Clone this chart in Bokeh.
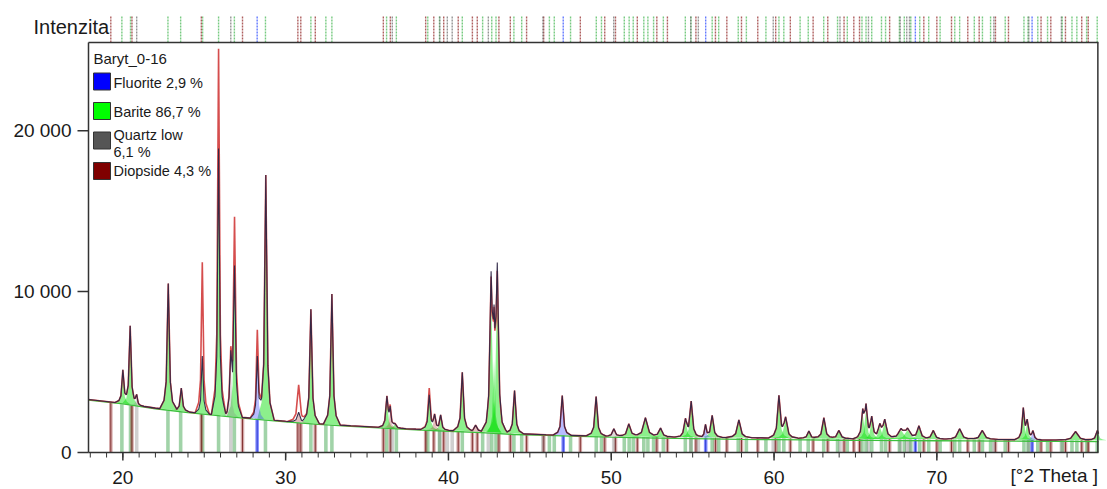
import numpy as np
from bokeh.plotting import figure
from bokeh.models import Range1d, Label
from bokeh.core.properties import value
from bokeh.embed import file_html
from bokeh.resources import INLINE

# ---------------- data ----------------
peak_theta = [20.00, 20.45, 20.85, 22.79, 23.59, 24.88, 25.88, 26.63, 26.86, 28.26,
              28.78, 30.80, 31.55, 32.84, 36.22, 36.42, 36.72, 38.82, 39.15, 39.52,
              40.85, 41.67, 42.62, 42.80, 43.00, 44.06, 46.99, 49.07, 50.16, 51.08,
              52.10, 53.03, 54.56, 54.91, 55.79, 56.20, 57.84, 60.30, 60.71, 62.14,
              63.06, 63.98, 65.45, 65.65, 66.00, 66.50, 66.80, 67.80, 68.20, 68.90,
              69.78, 71.40, 72.79, 75.31, 75.55, 75.90, 78.52, 79.86]
peak_obs = [5100, 7850, 3500, 10500, 4000, 6000, 18900, 5600, 11400, 6000,
            17250, 2500, 8900, 9850, 3400, 2600, 1750, 3550, 2240, 2300,
            4990, 1700, 10100, 5900, 10800, 3850, 3540, 3470, 1470, 1780,
            2160, 1510, 1990, 3130, 1680, 2300, 2030, 3480, 2090, 1330,
            2160, 1370, 2400, 2710, 2100, 1620, 1950, 1400, 1410, 1620,
            1370, 1470, 1370, 2650, 1880, 1300, 1300, 1370]
peak_calc = [5100, 7850, 3500, 10500, 4000, 11830, 25100, 5600, 14420, 7630,
             17250, 4200, 8900, 9850, 3400, 2700, 1750, 3960, 2240, 2300,
             4990, 1700, 9800, 5900, 10300, 3850, 3540, 3470, 1470, 1780,
             2160, 1510, 1990, 3130, 1680, 2300, 2030, 3480, 2090, 1330,
             2160, 1370, 2400, 2710, 2100, 1620, 1950, 1400, 1410, 1620,
             1370, 1470, 1370, 2650, 1880, 1300, 1300, 1370]
peak_hw = [0.12, 0.12, 0.11, 0.13, 0.13, 0.11, 0.11, 0.11, 0.12, 0.11,
           0.13, 0.17, 0.13, 0.13, 0.13, 0.11, 0.17, 0.13, 0.13, 0.13,
           0.14, 0.17, 0.15, 0.12, 0.15, 0.14, 0.14, 0.15, 0.17, 0.20,
           0.25, 0.20, 0.16, 0.16, 0.11, 0.16, 0.20, 0.16, 0.20, 0.17,
           0.18, 0.20, 0.15, 0.15, 0.15, 0.20, 0.20, 0.30, 0.30, 0.20,
           0.20, 0.25, 0.25, 0.13, 0.15, 0.13, 0.30, 0.17]
peak_phase = ["B", "B", "Q", "B", "B", "B", "B", "Q", "B", "F",
              "B", "D", "B", "B", "B", "D", "B", "B", "D", "B",
              "B", "D", "B", "B", "B", "B", "F", "B", "Q", "B",
              "B", "B", "B", "B", "F", "B", "B", "B", "B", "B",
              "B", "B", "B", "B", "B", "B", "B", "B", "B", "B",
              "B", "B", "B", "B", "B", "F", "B", "B"]

bkg_theta = [17.89, 20, 22, 24, 26, 28, 30, 32, 34, 36, 38, 40, 42, 44, 46, 48, 50,
             52, 54, 56, 58, 60, 62, 64, 66, 68, 70, 72, 74, 76, 78, 79.93]
bkg_int = [3250, 3020, 2720, 2480, 2270, 2080, 1900, 1750, 1620, 1510, 1410, 1320,
           1240, 1120, 1060, 1000, 950, 910, 880, 850, 820, 800, 780, 760, 750,
           740, 730, 720, 710, 700, 690, 680]
base_int = [3290, 3060, 2760, 2520, 2310, 2120, 1940, 1790, 1660, 1550, 1450, 1370,
            1300, 1180, 1100, 1050, 1000, 980, 960, 940, 920, 900, 880, 860, 850,
            840, 830, 820, 810, 790, 770, 760]

barite_pos = [19.94, 20.47, 22.77, 23.55, 24.9, 25.88, 26.85, 28.76, 31.55, 32.47,
              32.84, 36.2, 36.8, 38.73, 39.45, 40.85, 42.1, 42.66, 42.92, 44.02,
              44.5, 46.2, 46.5, 47.5, 49.08, 49.4, 50.8, 51.1, 51.35, 52.0, 52.25,
              52.6, 53.2, 54.55, 54.9, 56.2, 56.6, 57.8, 58.3, 59.5, 60.3, 60.6,
              61.6, 62.1, 63.05, 63.9, 64.5, 65.4, 65.65, 66.0, 66.6, 66.85, 67.7,
              68.0, 68.4, 68.95, 69.5, 70.2, 71.1, 71.4, 72.3, 72.8, 73.3, 74.2,
              75.35, 75.6, 76.2, 76.8, 77.7, 78.3, 78.6, 79.2, 79.85]
diopside_pos = [19.26, 20.56, 24.82, 27.35, 30.75, 30.93, 31.82, 36.0, 36.43, 38.6,
                39.1, 39.71, 40.6, 41.47, 41.77, 43.1, 43.8, 44.8, 45.85, 48.1,
                49.6, 50.26, 51.6, 52.8, 53.45, 55.2, 56.4, 57.1, 58.0, 59.0, 60.1,
                61.0, 62.4, 63.3, 64.3, 64.9, 65.25, 67.1, 69.2, 70.0, 70.9, 71.9,
                72.6, 73.6, 74.4, 76.4, 77.0, 77.9, 78.9, 79.3]
quartz_pos = [20.85, 26.63, 36.55, 39.47, 39.93, 40.23, 42.45, 45.8, 50.15, 54.88,
              55.35, 59.95, 64.05, 65.8, 67.75, 68.15, 68.32, 73.5, 75.65, 77.65]
fluorite_pos = [28.25, 47.05, 55.8, 68.68, 75.85]

legend_names = ["Fluorite 2,9 %", "Barite 86,7 %", "Quartz low", "Diopside 4,3 %"]
legend_colors = ["#0000ff", "#00ff00", "#555555", "#7f0000"]
x_ticks = [20, 30, 40, 50, 60, 70]
x_tick_labels = ["20", "30", "40", "50", "60", "70"]
y_ticks = [0, 10000, 20000]
y_tick_labels = ["0", "10 000", "20 000"]

# ---------------- geometry helpers (page pixels -> data) ----------------
X0, X1 = 17.89, 79.93          # plot box in 2-theta
FRAME_TOP = 25482              # top line of the plot box
FONT = "Liberation Sans"
W, H = 1106, 488


def px2x(px):
    return X0 + (px - 88) / 16.28


def py2y(py):
    return (452 - py) / 0.01609


def base_at(x):
    return np.interp(x, bkg_theta, base_int)


offs = np.array([-4, -2, -1, 0, 1, 2, 4], dtype=float)
frac = np.array([0, 0.07, 0.22, 1, 0.22, 0.07, 0])

verts = set(bkg_theta)
for t, w in zip(peak_theta, peak_hw):
    verts.update((t + offs * w).tolist())
xs = np.array(sorted(v for v in verts if X0 <= v <= X1))


def profile(heights):
    y = base_at(xs).astype(float)
    for t, h, w in zip(peak_theta, heights, peak_hw):
        d = h - base_at(t)
        y = y + np.interp(xs, t + offs * w, frac * d, left=0, right=0)
    return y


obs = profile(peak_obs)
calc = profile(peak_calc)

p = figure(width=W, height=H, x_range=Range1d(px2x(0), px2x(W)),
           y_range=Range1d(py2y(H), py2y(0)),
           output_backend="svg", toolbar_location=None,
           x_axis_location=None, y_axis_location=None,
           min_border_left=0, min_border_right=0, min_border_top=0, min_border_bottom=0)
p.outline_line_color = None
p.grid.visible = False
p.background_fill_color = "white"
p.border_fill_color = "white"

# stick bars at the bottom + dashed markers in the top strip
stick_sets = [
    (barite_pos, "#2e9e3e", 0.45, None, "#3cb34a"),
    (diopside_pos, "#8b1a1a", 0.38, "#6b0f0f", "#8b1a1a"),
    (quartz_pos, "#777777", 0.35, None, "#666666"),
    (fluorite_pos, "#2030ff", 0.55, "#1020c0", "#2040ff"),
]
for pos, col, al, lc, sc in stick_sets:
    pos = np.array(pos)
    tops = base_at(pos) * 0.98
    p.vbar(x=pos, width=0.22, bottom=0, top=tops, fill_color=col, fill_alpha=al,
           line_color=None)
    if lc is not None:
        p.segment(x0=pos, y0=np.zeros_like(pos), x1=pos, y1=tops, line_color=lc,
                  line_width=1, line_alpha=0.75)
    p.segment(x0=pos, y0=np.full(len(pos), FRAME_TOP), x1=pos,
              y1=np.full(len(pos), py2y(15)), line_color=sc, line_alpha=0.7,
              line_width=1.4, line_dash="2 1")

# phase fills under peaks
fill_col = {"B": "#00dd00", "F": "#3040ff", "Q": "#888888", "D": "#a03030"}
fill_alpha = {"B": 0.45, "F": 0.35, "Q": 0.3, "D": 0.3}
for ph in ["B", "Q", "D", "F"]:
    pxs, pys = [], []
    for t, h, w, f in zip(peak_theta, peak_obs, peak_hw, peak_phase):
        if f != ph:
            continue
        vx = t + offs * w
        d = h - base_at(t)
        pxs.append(vx.tolist())
        pys.append((base_at(vx) + frac * d * 0.97).tolist())
    if pxs:
        p.patches(xs=pxs, ys=pys, fill_color=fill_col[ph], fill_alpha=fill_alpha[ph],
                  line_color=None)

# background line, calculated (red) and observed (dark) patterns
p.line(bkg_theta, bkg_int, line_color="#3cc03c", line_width=1.3)
p.line(xs, calc, line_color="#d03a3a", line_width=1.6, line_alpha=0.9)
p.line(xs, obs, line_color="#2d2545", line_width=1.1, line_alpha=0.95)

# ---------------- axes and box, drawn by hand ----------------
AX = "#333333"
p.segment(x0=[X0, X0, X1 - 0.04, X0], y0=[0, 0, 0, FRAME_TOP],
          x1=[X1, X0, X1 - 0.04, X1], y1=[0, FRAME_TOP, FRAME_TOP, FRAME_TOP],
          line_color=AX, line_width=1.5)
minor = [m for m in range(18, 80)]
p.segment(x0=minor, y0=[0] * len(minor), x1=minor, y1=[py2y(457)] * len(minor),
          line_color=AX, line_width=1)
p.segment(x0=x_ticks, y0=[0] * len(x_ticks), x1=x_ticks,
          y1=[py2y(460)] * len(x_ticks), line_color=AX, line_width=1.5)
p.segment(x0=[px2x(77)] * 3, y0=y_ticks, x1=[X0] * 3, y1=y_ticks,
          line_color=AX, line_width=1.5)
p.text(x=x_ticks, y=[py2y(477)] * len(x_ticks), text=x_tick_labels,
       text_font=value(FONT), text_font_size="19px", text_color="#1a1a1a",
       text_align="center", text_baseline="middle")
p.text(x=[px2x(71)] * 3, y=y_ticks, text=y_tick_labels,
       text_font=value(FONT), text_font_size="19px", text_color="#1a1a1a",
       text_align="right", text_baseline="middle")

# texts
p.add_layout(Label(x=px2x(33), y=py2y(26), text="Intenzita", text_font=FONT,
                   text_font_size="20px", text_color="#1a1a1a", text_baseline="middle"))
p.add_layout(Label(x=px2x(1010), y=py2y(475), text="[°2 Theta ]", text_font=FONT,
                   text_font_size="19px", text_color="#1a1a1a", text_baseline="middle"))

# legend
p.add_layout(Label(x=px2x(93), y=py2y(58), text="Baryt_0-16", text_font=FONT,
                   text_font_size="15px", text_color="#1a1a1a", text_baseline="middle"))
sw_py = [81, 110.5, 140, 170.5]
p.rect(x=[px2x(101.5)] * 4, y=[py2y(v) for v in sw_py], width=17, height=17,
       width_units="screen", height_units="screen", fill_color=legend_colors,
       line_color="#333333", line_width=1)
txt_py = [82, 111, 134, 170]
for name, ty in zip(legend_names, txt_py):
    p.add_layout(Label(x=px2x(113), y=py2y(ty), text=name, text_font=FONT,
                       text_font_size="14.5px", text_color="#1a1a1a",
                       text_baseline="middle"))
p.add_layout(Label(x=px2x(113), y=py2y(151), text="6,1 %", text_font=FONT,
                   text_font_size="14.5px", text_color="#1a1a1a", text_baseline="middle"))

open("out.html", "w").write(file_html(p, INLINE))
